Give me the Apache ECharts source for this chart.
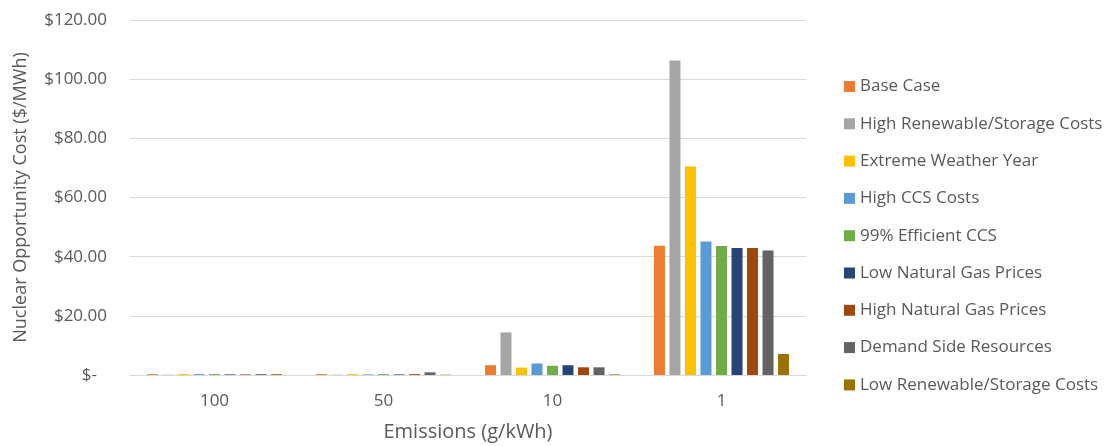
<!DOCTYPE html>
<html>
<head>
<meta charset="utf-8">
<script src="https://cdn.jsdelivr.net/npm/echarts@6/dist/echarts.min.js"></script>
<style>html,body{margin:0;padding:0;background:#fff}#c{width:1107px;height:446px}</style>
</head>
<body>
<div id="c"></div>
<script>
const categories = ['100', '50', '10', '1'];
const seriesNames = ['Base Case', 'High Renewable/Storage Costs', 'Extreme Weather Year', 'High CCS Costs', '99% Efficient CCS', 'Low Natural Gas Prices', 'High Natural Gas Prices', 'Demand Side Resources', 'Low Renewable/Storage Costs'];
const colors = ['#ED7D31', '#A5A5A5', '#FFC000', '#5B9BD5', '#70AD47', '#264478', '#9E480E', '#636363', '#997300'];
const baseCase = [0.3, 0.3, 3.3, 43.7];
const highRenewable = [0.1, 0.1, 14.4, 106.3];
const extremeWeather = [0.3, 0.3, 2.5, 70.5];
const highCCS = [0.3, 0.2, 3.9, 45.1];
const efficientCCS = [0.3, 0.3, 3.1, 43.6];
const lowGas = [0.2, 0.2, 3.3, 42.9];
const highGas = [0.2, 0.3, 2.6, 42.9];
const demandSide = [0.3, 0.9, 2.6, 42.1];
const lowRenewable = [0.3, 0.1, 0.2, 7.1];
const yTicks = [0, 20, 40, 60, 80, 100, 120];

const allData = [baseCase, highRenewable, extremeWeather, highCCS, efficientCCS, lowGas, highGas, demandSide, lowRenewable];
const txt = '#595959';
const ff = '"Open Sans", "Liberation Sans", sans-serif';

const chart = echarts.init(document.getElementById('c'), null, {renderer: 'canvas'});
chart.setOption({
  animation: false,
  textStyle: {fontFamily: ff, color: txt},
  grid: {left: 130, right: 301, top: 20, bottom: 71, containLabel: false, outerBoundsMode: 'none'},
  legend: {
    orient: 'vertical', left: 839, top: 73,
    itemWidth: 11, itemHeight: 11, itemGap: 20.3,
    icon: 'rect',
    textStyle: {fontSize: 17, color: txt, fontFamily: ff},
    data: seriesNames
  },
  xAxis: {
    type: 'category', data: categories,
    name: 'Emissions (g/kWh)', nameLocation: 'middle', nameGap: 47,
    nameTextStyle: {fontSize: 20, color: txt, fontFamily: ff},
    axisLine: {lineStyle: {color: '#d9d9d9', width: 1}},
    axisTick: {show: false},
    axisLabel: {fontSize: 17, color: txt, margin: 18, fontFamily: ff}
  },
  yAxis: {
    type: 'value', min: yTicks[0], max: yTicks[yTicks.length-1], interval: 20,
    name: 'Nuclear Opportunity Cost ($/MWh)', nameLocation: 'middle', nameGap: 100,
    nameTextStyle: {fontSize: 18, color: txt, fontFamily: ff},
    axisLine: {show: false}, axisTick: {show: false},
    splitLine: {lineStyle: {color: '#d9d9d9', width: 1}},
    axisLabel: {
      fontSize: 17, color: txt, margin: 23, fontFamily: ff,
      formatter: v => v === 0 ? '{z|$-}' : '$' + v.toFixed(2),
      rich: {z: {fontSize: 17, color: txt, fontFamily: ff, padding: [0, 10, 0, 0]}}
    }
  },
  series: allData.map((d, i) => ({
    name: seriesNames[i], type: 'bar', data: d,
    barWidth: 11, barGap: '41%',
    itemStyle: {color: colors[i]}
  }))
});
</script>
</body>
</html>
